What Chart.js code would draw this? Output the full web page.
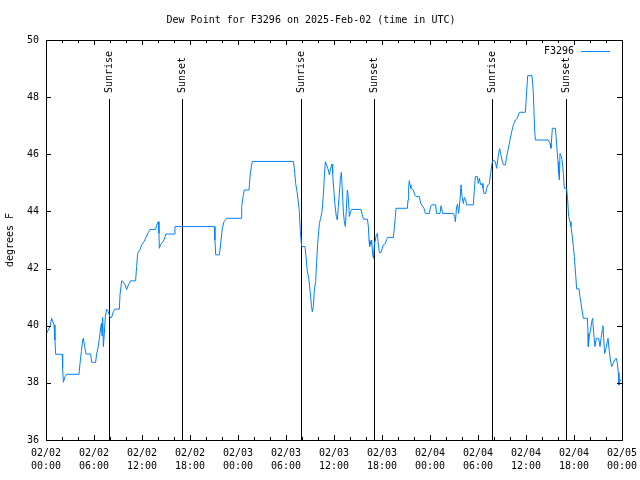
<!DOCTYPE html>
<html>
<head>
<meta charset="utf-8">
<title>Dew Point F3296</title>
<script src="https://cdn.jsdelivr.net/npm/chart.js@4.4.1/dist/chart.umd.min.js"></script>
<style>
    body { margin:0; background:#fff; }
    #wrap { width:640px; height:480px; }
</style>
</head>
<body>
<div id="wrap"><canvas id="dewChart" width="640" height="480"></canvas></div>
<script>
/* ==========================
   DATA
========================== */
// hours since 02/02 00:00 UTC
const hours = [
    0.0,0.5,0.71,0.85,1.0,1.12,1.21,2.04,2.08,2.17,2.38,2.58,4.12,4.25,4.42,4.58,4.67,4.83,5.0,5.58,
    5.71,6.2,6.33,6.54,6.75,6.92,7.0,7.08,7.17,7.29,7.42,7.58,7.79,8.0,8.2,8.42,8.62,9.17,9.25,9.46,
    9.6,9.88,10.08,10.3,10.58,11.2,11.33,11.46,11.75,11.96,12.25,12.5,12.79,13.0,13.71,13.83,14.04,14.12,14.17,14.33,
    14.54,14.75,15.0,16.04,16.12,21.04,21.12,21.21,21.67,21.75,21.88,22.04,22.25,22.58,24.38,24.46,24.67,24.79,25.38,25.5,
    25.67,25.79,30.92,31.04,31.21,31.38,31.54,31.67,31.79,31.96,32.38,32.5,32.67,32.83,33.0,33.17,33.29,33.42,33.54,33.71,
    33.83,33.96,34.17,34.33,34.5,34.67,34.79,34.92,35.08,35.29,35.42,35.58,35.75,35.83,35.96,36.12,36.29,36.42,36.54,36.67,
    36.79,36.92,37.04,37.17,37.29,37.42,37.54,37.67,37.79,37.92,38.08,38.21,39.38,39.54,39.67,40.17,40.29,40.38,40.46,40.54,
    40.62,40.71,40.83,40.92,41.04,41.17,41.29,41.42,41.5,41.67,41.88,42.04,42.17,42.42,42.58,42.71,43.42,43.54,43.67,43.75,
    45.17,45.25,45.33,45.42,45.5,45.62,45.92,46.08,46.25,46.67,46.83,47.04,47.25,47.42,47.92,48.08,48.21,48.71,48.83,49.25,
    49.38,49.58,50.92,51.08,51.17,51.33,51.45,51.58,51.75,51.88,52.0,52.17,52.29,52.46,52.58,53.42,53.54,53.67,53.92,54.04,
    54.17,54.33,54.5,54.62,54.75,54.96,55.08,55.25,55.42,55.58,55.75,55.92,56.17,56.33,56.46,56.58,56.71,56.83,57.0,57.17,
    57.42,57.58,57.79,58.0,58.21,58.42,58.67,58.92,59.17,59.92,60.08,60.21,60.75,60.92,61.08,61.17,62.79,63.0,63.12,63.21,
    63.29,63.67,63.79,63.88,64.0,64.08,64.17,64.25,64.38,64.5,64.67,64.79,65.08,65.21,65.33,65.5,65.62,65.79,65.92,66.04,
    66.21,66.33,66.62,66.75,66.88,67.0,67.17,67.67,67.75,67.79,67.92,68.08,68.21,68.33,68.46,68.62,68.79,69.08,69.25,69.38,
    69.54,69.62,69.71,69.83,70.0,70.17,70.25,70.42,70.58,70.71,70.88,71.12,71.29,71.42,71.54,71.62,71.71,71.83
];
const dewPoint = [
    39.70,39.97,40.26,40.14,40.03,39.5,39.0,39.0,38.51,38.02,38.22,38.3,38.3,38.68,39.09,39.5,39.56,39.27,39.01,39.01,
    38.72,38.72,39.01,39.27,39.73,40.08,39.64,40.29,39.27,39.73,40.32,40.58,40.49,40.29,40.29,40.49,40.58,40.58,41.08,41.57,
    41.55,41.43,41.27,41.43,41.57,41.57,42.07,42.53,42.67,42.83,42.94,43.09,43.26,43.37,43.37,43.52,43.64,43.23,42.71,42.85,
    42.9,43.0,43.21,43.21,43.47,43.47,43.0,42.48,42.48,42.65,43.0,43.41,43.64,43.76,43.76,44.17,44.58,44.75,44.75,45.22,
    45.57,45.75,45.75,45.51,44.98,44.69,44.34,43.99,43.29,42.77,42.77,42.42,41.89,41.7,41.25,40.73,40.49,40.67,41.25,41.54,
    42.24,42.88,43.58,43.76,43.99,44.58,45.22,45.74,45.62,45.45,45.28,45.51,45.66,45.33,44.81,44.23,43.82,43.7,44.17,44.64,
    45.12,45.37,44.75,43.99,43.64,43.47,44.05,44.75,44.49,43.82,43.99,44.07,44.07,43.88,43.73,43.73,43.49,43.0,42.77,42.94,
    42.85,43.0,42.53,42.36,42.83,43.0,43.18,43.23,42.94,42.56,42.56,42.71,42.83,42.88,43.02,43.09,43.09,43.41,43.82,44.11,
    44.11,44.4,44.87,45.08,44.93,44.81,44.75,44.58,44.52,44.52,44.28,44.19,44.11,43.93,43.93,44.17,44.23,44.23,43.93,43.93,
    44.2,43.93,43.93,43.82,43.64,44.17,44.25,43.93,44.4,44.93,44.52,44.28,44.49,44.4,44.23,44.23,44.75,45.22,45.22,44.98,
    45.16,44.93,44.98,44.81,44.63,44.63,44.81,44.93,44.98,45.33,45.68,45.8,45.74,45.51,45.8,46.03,46.2,46.03,45.8,45.63,
    45.63,45.92,46.2,46.5,46.79,47.03,47.2,47.26,47.47,47.47,48.19,48.75,48.75,48.13,46.85,46.5,46.5,46.38,46.21,46.56,
    46.91,46.91,46.5,46.15,45.74,45.33,45.1,46.03,45.96,45.82,45.33,44.81,44.81,44.4,43.82,43.64,43.47,43.12,42.77,42.42,
    41.78,41.29,41.29,41.02,40.78,40.55,40.26,40.26,39.73,39.27,39.67,39.85,40.14,40.26,39.73,39.27,39.56,39.56,39.27,39.56,
    39.85,40.0,39.56,39.03,39.21,39.44,39.56,39.09,38.74,38.57,38.68,38.82,38.86,38.68,38.36,37.92,38.03,38.12
];

const sunriseHours = [7.92, 31.92, 55.79];
const sunsetHours = [17.04, 41.04, 65.04];

const dayLabels = ["02/02","02/02","02/02","02/02","02/03","02/03","02/03","02/03","02/04","02/04","02/04","02/04","02/05"];
const timeLabels = ["00:00","06:00","12:00","18:00","00:00","06:00","12:00","18:00","00:00","06:00","12:00","18:00","00:00"];

const seriesName = "F3296";
const titleText = "Dew Point for F3296 on 2025-Feb-02 (time in UTC)";
const yTitle = "degrees F";

/* ==========================
   STYLE
========================== */
const FONT = "'DejaVu Sans Mono', monospace";
const LINE_COLOR = "#0080ff";

/* ==========================
   GNUPLOT-ISH DECORATIONS
========================== */
const decorPlugin = {
    id: "decor",
    beforeDatasetsDraw(chart){
        const {ctx, chartArea, scales:{x}} = chart;
        ctx.save();
        ctx.strokeStyle = "#000";
        ctx.lineWidth = 1;
        ctx.fillStyle = "#000";
        ctx.font = "10px " + FONT;
        ctx.textBaseline = "middle";
        ctx.textAlign = "left";
        const marks = [];
        sunriseHours.forEach(h => marks.push([h, "Sunrise"]));
        sunsetHours.forEach(h => marks.push([h, "Sunset"]));
        marks.forEach(([h, label]) => {
            const px = Math.round(x.getPixelForValue(h)) + 0.5;
            ctx.beginPath();
            ctx.moveTo(px, chartArea.top + 59);
            ctx.lineTo(px, chartArea.bottom);
            ctx.stroke();
            ctx.save();
            ctx.translate(px, chartArea.top + 53);
            ctx.rotate(-Math.PI/2);
            ctx.fillText(label, 0, 0);
            ctx.restore();
        });
        ctx.restore();
    },
    afterDraw(chart){
        const {ctx, chartArea:a, scales:{x, y}} = chart;
        ctx.save();
        ctx.strokeStyle = "#000";
        ctx.lineWidth = 1;
        ctx.beginPath();
        // x ticks every 2 hours, major every 6
        for(let h = 2; h < 72; h += 2){
            const px = Math.round(x.getPixelForValue(h)) + 0.5;
            const len = h % 6 === 0 ? 5 : 3;
            ctx.moveTo(px, a.bottom); ctx.lineTo(px, a.bottom - len);
            ctx.moveTo(px, a.top); ctx.lineTo(px, a.top + len);
        }
        // y ticks
        for(let v = 38; v < 50; v += 2){
            const py = Math.round(y.getPixelForValue(v)) + 0.5;
            ctx.moveTo(a.left, py); ctx.lineTo(a.left + 5, py);
            ctx.moveTo(a.right, py); ctx.lineTo(a.right - 5, py);
        }
        ctx.stroke();
        // frame
        ctx.strokeRect(Math.round(a.left)+0.5, Math.round(a.top)+0.5,
            Math.round(a.right - a.left), Math.round(a.bottom - a.top));

        // key
        ctx.font = "10px " + FONT;
        ctx.fillStyle = "#000";
        ctx.textAlign = "right";
        ctx.textBaseline = "middle";
        ctx.fillText(seriesName, a.right - 48, a.top + 11);
        ctx.strokeStyle = LINE_COLOR;
        ctx.beginPath();
        ctx.moveTo(a.right - 41, a.top + 11.5);
        ctx.lineTo(a.right - 12, a.top + 11.5);
        ctx.stroke();
        ctx.restore();
    }
};

/* ==========================
   CHART
========================== */
const points = hours.map((h, i) => ({x: h, y: dewPoint[i]}));

new Chart(document.getElementById("dewChart").getContext("2d"), {
    type: "line",
    data: {
        datasets: [{
            label: seriesName,
            data: points,
            borderColor: LINE_COLOR,
            borderWidth: 1,
            pointRadius: 0,
            tension: 0,
            fill: false
        }]
    },
    options: {
        responsive: false,
        animation: false,
        layout: { padding: { left: 0, right: 18, top: 0, bottom: 0 } },
        plugins: {
            legend: { display: false },
            tooltip: { enabled: false },
            title: {
                display: true,
                text: titleText,
                color: "#000",
                font: { family: FONT, size: 10, weight: "normal", lineHeight: 1.2 },
                padding: { top: 14, bottom: 14 }
            }
        },
        scales: {
            x: {
                type: "linear",
                min: 0, max: 72,
                grid: { display: false, drawTicks: false },
                border: { display: false },
                afterFit(scale){
                    scale.height = 40;
                    scale.paddingLeft = 0;
                    scale.paddingRight = 0;
                },
                ticks: {
                    stepSize: 6,
                    autoSkip: false,
                    maxRotation: 0,
                    padding: 7,
                    color: "#000",
                    font: { family: FONT, size: 10, lineHeight: 1.3 },
                    callback: (v) => {
                        const i = Math.round(v / 6);
                        return [dayLabels[i], timeLabels[i]];
                    }
                }
            },
            y: {
                min: 36, max: 50,
                grid: { display: false, drawTicks: false },
                border: { display: false },
                afterFit(scale){ scale.width = 46; },
                ticks: {
                    stepSize: 2,
                    padding: 7,
                    color: "#000",
                    font: { family: FONT, size: 10 }
                },
                title: {
                    display: true,
                    text: yTitle,
                    color: "#000",
                    font: { family: FONT, size: 10 },
                    padding: { top: 4, bottom: 0 }
                }
            }
        }
    },
    plugins: [decorPlugin]
});
</script>
</body>
</html>
